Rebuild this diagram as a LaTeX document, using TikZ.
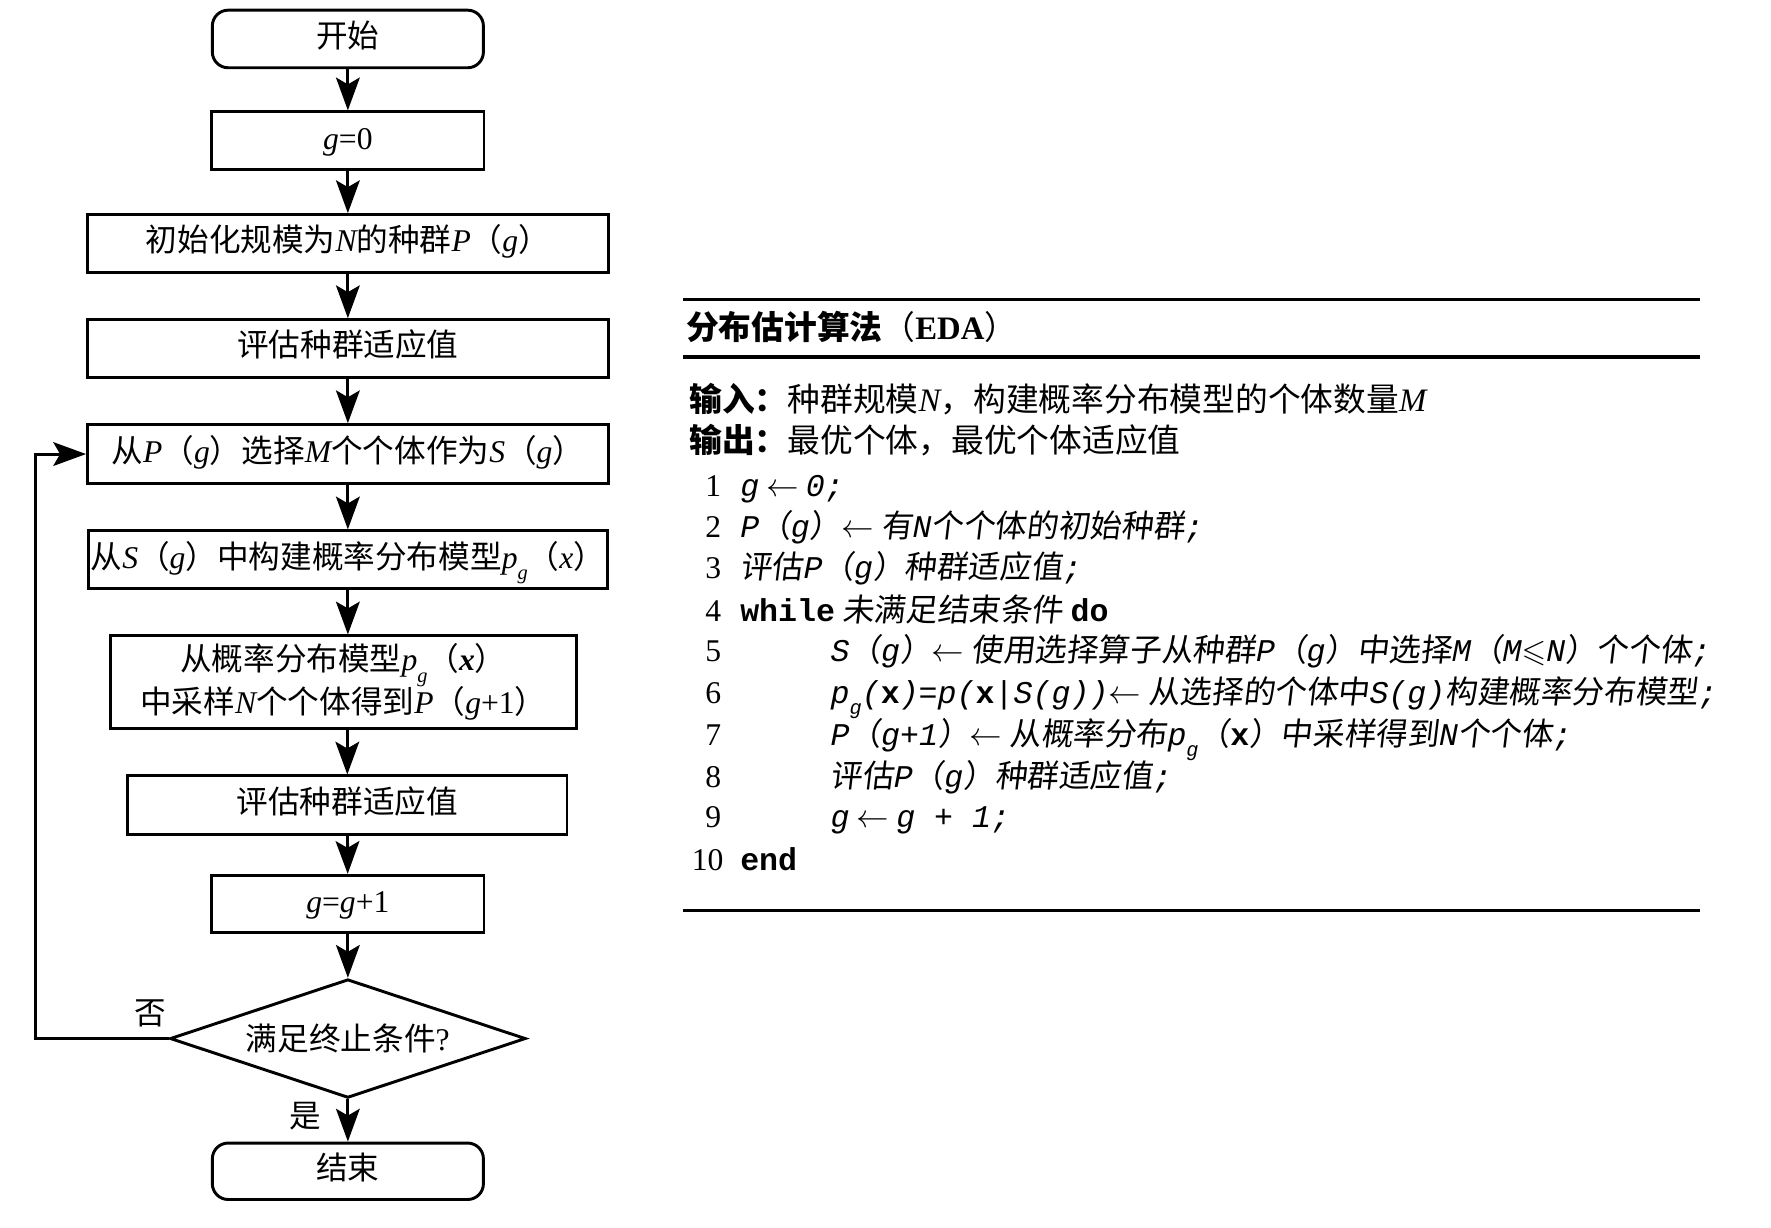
\documentclass[tikz,border=0pt]{standalone}
\usepackage{fontspec}
\usepackage{amssymb}
\setmainfont{Noto Sans CJK SC}
\newfontfamily\lat{Liberation Serif}
\newfontfamily\mono{Liberation Mono}
\newfontfamily\cjksl{Noto Sans CJK SC}[FakeSlant=0.12]
\usetikzlibrary{arrows.meta,shapes.geometric}
\newcommand\lmi[1]{{\lat\itshape #1}}
\newcommand\lmr[1]{{\lat #1}}
\newcommand\lbi[1]{{\lat\bfseries\itshape #1}}
\newcommand\sbg{\raisebox{-5pt}{\fontsize{9pt}{9pt}\selectfont\lmi{g}}}
\newcommand\tts[1]{{\mono\itshape #1}}
\newcommand\ttb[1]{{\mono\bfseries #1}}
\newcommand\tsbg{\raisebox{-5pt}{\fontsize{9pt}{9pt}\selectfont\tts{g}}}
\newcommand\larr{$\leftarrow$}
\tikzset{
  box/.style={draw, line width=1.3pt, inner sep=0pt, text height=10.5pt, text depth=3pt,
    font=\fontsize{14pt}{17pt}\selectfont},
  term/.style={box, rounded corners=7pt},
  arr/.style={line width=1.3pt, -{Stealth[length=14.5pt,width=10.5pt,inset=3pt]}},
  rule/.style={line width=1.6pt},
  hdr/.style={anchor=base west, inner sep=0pt, font=\fontsize{14.5pt}{17pt}\selectfont},
  alg/.style={anchor=base west, inner sep=0pt, font=\cjksl\fontsize{14pt}{17pt}\selectfont},
  num/.style={anchor=base east, inner sep=0pt, font=\lat\fontsize{14pt}{17pt}\selectfont},
  lbl/.style={inner sep=0pt, font=\fontsize{14pt}{17pt}\selectfont}
}
\begin{document}
\begin{tikzpicture}[x=0.5pt,y=-0.5pt]
\useasboundingbox (0,0) rectangle (1568,1087);
% flowchart
\node[term, minimum width=120pt, minimum height=25.5pt] (start) at (308,34.5) {开始};
\node[box, minimum width=120.5pt, minimum height=25.5pt] (g0) at (308,124.5) {\lmi{g}\lmr{=0}};
\node[box, minimum width=230.5pt, minimum height=25.5pt] (init) at (308,215.5) {初始化规模为\lmi{N}的种群\lmi{P}（\lmi{g}）};
\node[box, minimum width=230.5pt, minimum height=25.5pt] (eval1) at (308,308.5) {评估种群适应值};
\node[box, minimum width=230.5pt, minimum height=26pt] (sel) at (308,402) {从\lmi{P}（\lmi{g}）选择\lmi{M}个个体作为\lmi{S}（\lmi{g}）};
\node[box, minimum width=230pt, minimum height=25.5pt] (build) at (308,495.5) {从\lmi{S}（\lmi{g}）中构建概率分布模型\lmi{p}\sbg（\lmi{x}）};
\node[draw, line width=1.3pt, inner sep=0pt, align=center, minimum width=206pt, minimum height=41pt,
  font=\fontsize{14pt}{19pt}\selectfont] (sample) at (304,604)
  {从概率分布模型\lmi{p}\sbg（\lbi{x}）\\中采样\lmi{N}个个体得到\lmi{P}（\lmi{g}\lmr{+1}）};
\node[box, minimum width=194.5pt, minimum height=26pt] (eval2) at (307.5,713) {评估种群适应值};
\node[box, minimum width=120.5pt, minimum height=25.5pt] (inc) at (308,800.5) {\lmi{g}\lmr{=}\lmi{g}\lmr{+1}};
\node[draw, diamond, aspect=3, line width=1.3pt, inner sep=0pt, minimum width=157.5pt, minimum height=52.5pt,
  font=\fontsize{14pt}{17pt}\selectfont] (dec) at (308,919.5) {满足终止条件\lmr{?}};
\node[term, minimum width=120pt, minimum height=25pt] (end) at (308,1037) {结束};
\node[lbl] (no) at (133,897) {否};
\node[lbl] (yes) at (270,988) {是};
\draw[arr] (start) -- (g0);
\draw[arr] (g0) -- (init);
\draw[arr] (init) -- (eval1);
\draw[arr] (eval1) -- (sel);
\draw[arr] (sel) -- (build);
\draw[arr] (build) -- (sample.north -| build.south);
\draw[arr] (sample.south -| eval2.north) -- (eval2);
\draw[arr] (eval2) -- (inc);
\draw[arr] (inc) -- (dec);
\draw[arr] (dec) -- (end);
\draw[arr] (dec.west) -- ++(-118,0) |- (sel.west);
% algorithm box
\draw[rule] (605,265) -- (1505,265);
\draw[rule] (605,316) -- (1505,316);
\draw[rule] (605,806) -- (1505,806);
\node[hdr] (title) at (607,301) {{\bfseries 分布估计算法}（{\lat\bfseries EDA}）};
\node[hdr] (in) at (610,364) {{\bfseries 输入：}种群规模\lmi{N}，构建概率分布模型的个体数量\lmi{M}};
\node[hdr] (out) at (610,401) {{\bfseries 输出：}最优个体，最优个体适应值};
\node[num] (n1) at (639,440) {1};
\node[num] (n2) at (639,476) {2};
\node[num] (n3) at (639,512) {3};
\node[num] (n4) at (639,550) {4};
\node[num] (n5) at (639,586) {5};
\node[num] (n6) at (639,623) {6};
\node[num] (n7) at (639,660) {7};
\node[num] (n8) at (639,697) {8};
\node[num] (n9) at (639,733) {9};
\node[num] (n10) at (641,771) {10};
\node[alg] (l1) at (655,440) {\tts{g} \larr\ \tts{0;}};
\node[alg] (l2) at (655,476) {\tts{P}（\tts{g}）\larr\ 有\tts{N}个个体的初始种群\tts{;}};
\node[alg] (l3) at (655,512) {评估\tts{P}（\tts{g}）种群适应值\tts{;}};
\node[alg] (l4) at (655,550) {\ttb{while} 未满足结束条件 \ttb{do}};
\node[alg] (l5) at (735,586) {\tts{S}（\tts{g}）\larr\ 使用选择算子从种群\tts{P}（\tts{g}）中选择\tts{M}（\tts{M}$\leqslant$\tts{N}）个个体\tts{;}};
\node[alg] (l6) at (735,623) {\tts{p}\tsbg\tts{(}\ttb{x}\tts{)=p(}\ttb{x}\tts{|S(g))}\larr\ 从选择的个体中\tts{S(g)}构建概率分布模型\tts{;}};
\node[alg] (l7) at (735,660) {\tts{P}（\tts{g+1}）\larr\ 从概率分布\tts{p}\tsbg（\ttb{x}）中采样得到\tts{N}个个体\tts{;}};
\node[alg] (l8) at (735,697) {评估\tts{P}（\tts{g}）种群适应值\tts{;}};
\node[alg] (l9) at (735,733) {\tts{g} \larr\ \tts{g + 1;}};
\node[alg] (l10) at (655,771) {\ttb{end}};
\end{tikzpicture}
\end{document}
